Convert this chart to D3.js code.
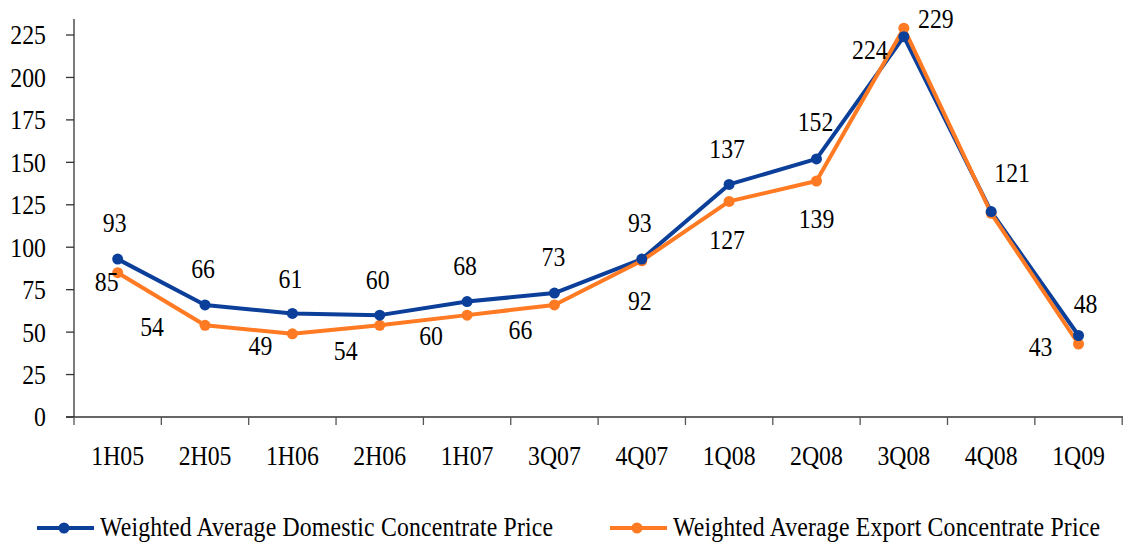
<!DOCTYPE html>
<html lang="en">
<head>
<meta charset="UTF-8">
<title>Concentrate Price</title>
<script src="https://d3js.org/d3.v7.min.js"></script>
<style>
  body { margin: 0; background: #fff; }
  svg text { font-family: "Liberation Serif", "Times New Roman", serif; fill: #000; }
</style>
</head>
<body>
<div id="chart"></div>
<script>
// data
const categories = ['1H05', '2H05', '1H06', '2H06', '1H07', '3Q07', '4Q07', '1Q08', '2Q08', '3Q08', '4Q08', '1Q09'];
const domestic = [93, 66, 61, 60, 68, 73, 93, 137, 152, 224, 121, 48];
const exportPrice = [85, 54, 49, 54, 60, 66, 92, 127, 139, 229, 120, 43];
const exportShown = [true, true, true, true, true, true, true, true, true, true, false, true];
const yTicks = [0, 25, 50, 75, 100, 125, 150, 175, 200, 225];
const seriesNames = ['Weighted Average Domestic Concentrate Price', 'Weighted Average Export Concentrate Price'];

// label placement (dx, dy from the point to the label centre)
const domOffsets = [[-3,-37],[-2,-36],[-2,-35],[-2,-36],[-2,-36],[-1,-37],[-2,-37],[-2,-36],[-1,-37],[-34,13],[21,-39],[7,-32]];
const expOffsets = [[-11,9],[-53,1],[-32,12],[-34,25],[-36,20],[-34,25],[-2,40],[-2,38],[0,38],[32,-10],[0,0],[-38,3]];

const width = 1123, height = 542;
const fs = 27, sx = 0.88;
const blue = '#0B3F99', orange = '#FF7A22';

const svg = d3.select('#chart').append('svg')
    .attr('width', width)
    .attr('height', height);

const x = d3.scaleBand().domain(categories).range([74, 74 + 87.35 * categories.length]);
const y = d3.scaleLinear().domain([0, 225]).range([417, 35]);
const cx = d => x(d) + x.bandwidth() / 2;

function label(g, px, py, txt, anchor) {
    g.append('text')
        .attr('transform', `translate(${px},${py}) scale(${sx},1)`)
        .attr('text-anchor', anchor || 'middle')
        .attr('dy', '0.35em')
        .style('font-size', fs + 'px')
        .text(txt);
}

// y axis
const yAxis = svg.append('g');
yAxis.append('line')
    .attr('x1', 74).attr('x2', 74)
    .attr('y1', y(0)).attr('y2', y(225) - 16)
    .attr('stroke', '#333').attr('stroke-width', 1.3);
yTicks.forEach(t => {
    yAxis.append('line')
        .attr('x1', 66).attr('x2', 74)
        .attr('y1', y(t)).attr('y2', y(t))
        .attr('stroke', '#333').attr('stroke-width', 1.3);
    label(yAxis, 46, y(t), t, 'end');
});

// x axis
const xAxis = svg.append('g');
xAxis.append('line')
    .attr('x1', 66).attr('x2', width)
    .attr('y1', y(0)).attr('y2', y(0))
    .attr('stroke', '#333').attr('stroke-width', 1.3);
const bounds = categories.map(c => x(c)).concat([x.range()[1]]);
bounds.forEach(b => {
    xAxis.append('line')
        .attr('x1', b).attr('x2', b)
        .attr('y1', y(0)).attr('y2', y(0) + 8)
        .attr('stroke', '#555').attr('stroke-width', 1.3);
});
categories.forEach(c => label(xAxis, cx(c), 456, c));

// lines
const line = d3.line()
    .x((d, i) => cx(categories[i]))
    .y(d => y(d));

svg.append('path').datum(domestic)
    .attr('d', line).attr('fill', 'none')
    .attr('stroke', blue).attr('stroke-width', 4).attr('stroke-linejoin', 'round');
svg.append('path').datum(exportPrice)
    .attr('d', line).attr('fill', 'none')
    .attr('stroke', orange).attr('stroke-width', 4).attr('stroke-linejoin', 'round');

// markers
svg.selectAll('.m-exp').data(exportPrice).enter()
    .append('circle').attr('class', 'm-exp')
    .attr('cx', (d, i) => cx(categories[i]))
    .attr('cy', d => y(d))
    .attr('r', 5.5).attr('fill', orange);
svg.selectAll('.m-dom').data(domestic).enter()
    .append('circle').attr('class', 'm-dom')
    .attr('cx', (d, i) => cx(categories[i]))
    .attr('cy', d => y(d))
    .attr('r', 5.5).attr('fill', blue);

// data labels
const labels = svg.append('g');
domestic.forEach((v, i) => {
    label(labels, cx(categories[i]) + domOffsets[i][0], y(v) + domOffsets[i][1], v);
});
exportPrice.forEach((v, i) => {
    if (!exportShown[i]) return;
    label(labels, cx(categories[i]) + expOffsets[i][0], y(v) + expOffsets[i][1], v);
});

// legend (nudged up a little so descenders stay inside the frame)
const legend = svg.append('g');
const legendItems = [
    { name: seriesNames[0], color: blue, x0: 37, w: 453 },
    { name: seriesNames[1], color: orange, x0: 610, w: 427 }
];
legendItems.forEach(it => {
    legend.append('line')
        .attr('x1', it.x0).attr('x2', it.x0 + 57)
        .attr('y1', 528).attr('y2', 528)
        .attr('stroke', it.color).attr('stroke-width', 4);
    legend.append('circle')
        .attr('cx', it.x0 + 27).attr('cy', 528)
        .attr('r', 5.5).attr('fill', it.color);
    legend.append('text')
        .attr('transform', `translate(${it.x0 + 63},535.5) scale(${sx},1)`)
        .attr('textLength', it.w / sx)
        .attr('lengthAdjust', 'spacing')
        .style('font-size', fs + 'px')
        .text(it.name);
});
</script>
</body>
</html>
